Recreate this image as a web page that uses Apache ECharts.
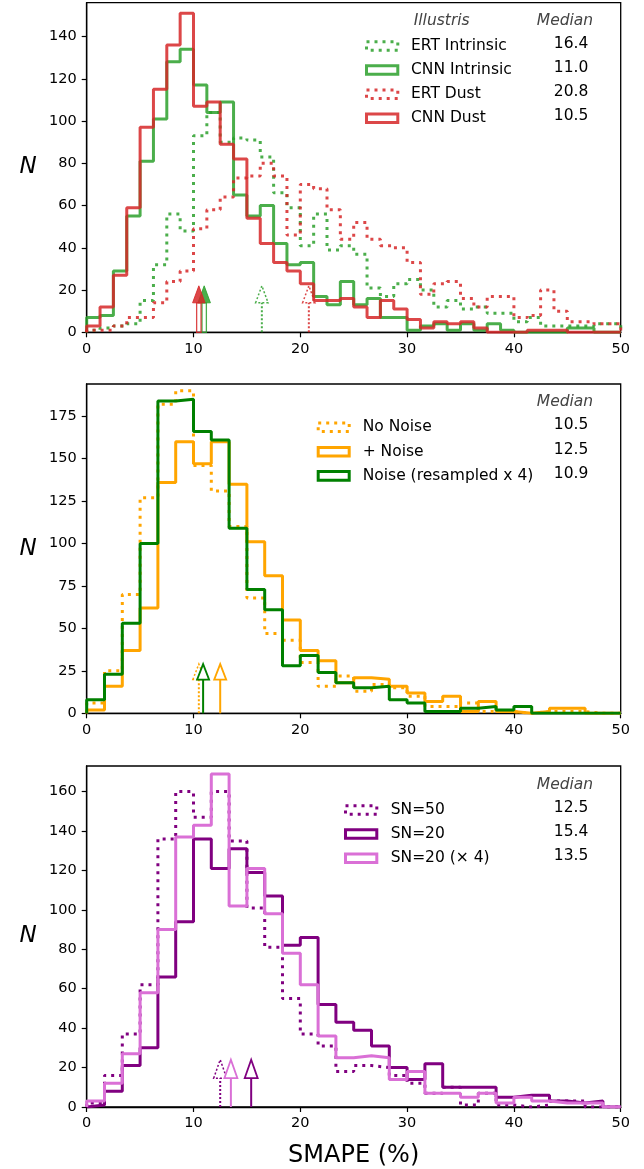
<!DOCTYPE html>
<html>
<head>
<meta charset="utf-8">
<script src="https://cdn.jsdelivr.net/npm/echarts@6/dist/echarts.min.js"></script>
<style>
  html, body { margin: 0; padding: 0; background: #fff; }
  #chart { width: 644px; height: 1169px; }
</style>
</head>
<body>
<div id="chart"></div>
<script>
// ---- Panel 1: Illustris, 40 bins of 1.25 % SMAPE ----
const binWidthTop = 1.25;
const ertIntrinsic = [1,2,3,4,15,32,56,48,93,104,90,92,91,83,66,59,41,56,39,41,37,21,17,23,25,20,12,15,11,12,9,9,5,7,3,3,3,3,4,4];
const cnnIntrinsic = [7,8,29,55,81,101,128,134,117,104,109,65,55,60,42,32,33,17,13,24,13,16,7,7,1,3,4,1,4,1,4,1,0,0,0,0,2,2,0,0];
const ertDust      = [1,1,3,7,7,14,24,29,49,58,64,73,74,80,74,46,70,68,58,44,52,44,41,40,33,18,23,24,16,12,17,17,7,8,20,10,5,5,4,4];
const cnnDust      = [3,12,27,59,97,115,136,151,107,109,89,82,54,42,33,29,23,15,15,16,12,7,15,11,6,2,5,4,5,2,0,0,0,1,1,1,0,0,0,0];
const namesTop   = ['ERT Intrinsic', 'CNN Intrinsic', 'ERT Dust', 'CNN Dust'];
const mediansTop = [16.4, 11.0, 20.8, 10.5];

// ---- Panel 2: noise tests, 30 bins of 50/30 ----
const binWidthMid = 50 / 30;
const noNoise   = [6,25,70,127,182,190,146,131,110,68,47,43,30,16,22,13,17,15,10,4,4,6,1,1,0,1,1,1,0,0];
const plusNoise = [2,16,37,62,136,160,147,160,135,101,81,55,37,31,18,21,20,16,12,7,10,1,7,1,0,1,3,3,0,0];
const resampled = [8,23,53,100,184,185,166,161,109,73,61,28,34,24,18,15,16,8,6,1,1,3,4,2,4,0,0,0,0,0];
const namesMid   = ['No Noise', '+ Noise', 'Noise (resampled x 4)'];
const mediansMid = [10.5, 12.5, 10.9];

// ---- Panel 3: signal-to-noise, 30 bins of 50/30 ----
const binWidthBot = 50 / 30;
const sn50   = [2,16,37,62,136,160,147,160,135,101,81,55,37,31,18,21,20,16,12,7,10,1,7,1,0,1,3,3,0,0];
const sn20   = [1,8,21,30,66,94,136,121,131,119,107,82,86,52,43,39,31,20,14,22,10,10,10,5,6,6,3,2,3,0];
const sn20x4 = [3,12,27,58,90,137,143,169,102,121,98,78,62,36,25,26,25,14,18,7,7,5,7,2,5,3,2,2,2,0];
const namesBot   = ['SN=50', 'SN=20', 'SN=20 (\u00d7 4)'];
const mediansBot = [12.5, 15.4, 13.5];

// ---- Axis ticks ----
const xTicks    = [0, 10, 20, 30, 40, 50];
const yTicksTop = [0, 20, 40, 60, 80, 100, 120, 140];
const yTicksMid = [0, 25, 50, 75, 100, 125, 150, 175];
const yTicksBot = [0, 20, 40, 60, 80, 100, 120, 140, 160];

const FONT = 'DejaVu Sans';
const DOT = [3, 5];

// outline of a step histogram: up from 0 at the first edge, across every bin, down at the last edge
function stepPoints(counts, w) {
  const pts = [[0, 0]];
  counts.forEach((c, i) => pts.push([i * w, c]));
  const n = counts.length;
  pts.push([n * w, counts[n - 1]]);
  pts.push([n * w, 0]);
  return pts;
}

function histSeries(name, counts, w, idx, color, dotted, opacity) {
  return {
    type: 'line', name, xAxisIndex: idx, yAxisIndex: idx,
    data: stepPoints(counts, w), step: 'end',
    symbol: 'none', silent: true, animation: false,
    lineStyle: { color, width: 3, type: dotted ? DOT : 'solid', opacity: opacity, cap: 'butt' },
    itemStyle: { color }
  };
}

// median markers: a vertical arrow from zero up to `top`
function arrowSeries(idx, medians, styles, top, head) {
  return {
    type: 'custom', xAxisIndex: idx, yAxisIndex: idx, silent: true, animation: false, z: 6,
    data: medians.map(m => [m]),
    renderItem(params, api) {
      const s = styles[params.dataIndex];
      const x = api.value(0);
      const p0 = api.coord([x, 0]);
      const p1 = api.coord([x, top]);
      const cx = p0[0];
      const hw = head[0] / 2;
      const neck = p1[1] + head[1];
      const kids = [];
      if (s.kind === 'filled') {
        kids.push({ type: 'rect', shape: { x: cx - 2.2, y: neck, width: 4.4, height: p0[1] - neck },
          style: { fill: 'none', stroke: s.color, lineWidth: 1.3, opacity: s.opacity || 1 } });
        kids.push({ type: 'polygon', shape: { points: [[cx - hw, neck], [cx, p1[1]], [cx + hw, neck]] },
          style: { fill: s.color, stroke: s.color, lineWidth: 1, opacity: s.opacity || 1 } });
      } else {
        const dash = s.kind === 'dotted' ? [2, 2] : null;
        kids.push({ type: 'line', shape: { x1: cx, y1: p0[1], x2: cx, y2: neck },
          style: { stroke: s.color, lineWidth: 2, lineDash: dash, opacity: s.opacity || 1 } });
        kids.push({ type: 'polygon', shape: { points: [[cx - hw, neck], [cx, p1[1]], [cx + hw, neck]] },
          style: { fill: dash ? 'none' : '#fff', stroke: s.color, lineWidth: dash ? 1.5 : 1.8, lineDash: dash, opacity: s.opacity || 1 } });
      }
      return { type: 'group', children: kids };
    }
  };
}

const grids = [
  { left: 86.7, top: 2.7, width: 534, height: 329.6 },
  { left: 86.7, top: 384, width: 534, height: 329.3 },
  { left: 86.7, top: 766, width: 534, height: 346.3 }
];
const yMax = [156, 194, 173];
const yTicks = [yTicksTop, yTicksMid, yTicksBot];

const axisLine = { show: true, lineStyle: { color: '#000', width: 1.3 } };
const tickStyle = { show: true, inside: false, length: 5, lineStyle: { color: '#000', width: 1.2 } };
const labelStyle = { color: '#000', fontFamily: FONT, fontSize: 14.5 };

const xAxes = grids.map((g, i) => ({
  type: 'value', gridIndex: i, min: 0, max: 50, interval: 10,
  axisLine, axisTick: Object.assign({ customValues: xTicks }, tickStyle), splitLine: { show: false },
  axisLabel: Object.assign({ margin: 9, customValues: xTicks }, labelStyle),
  name: i === 2 ? 'SMAPE (%)' : '', nameLocation: 'middle', nameGap: 37,
  nameTextStyle: { color: '#000', fontFamily: FONT, fontSize: 24 }
}));
const yAxes = grids.map((g, i) => ({
  type: 'value', gridIndex: i, min: 0, max: yMax[i],
  axisLine, splitLine: { show: false },
  axisTick: Object.assign({ customValues: yTicks[i] }, tickStyle),
  axisLabel: Object.assign({ margin: 10, customValues: yTicks[i] }, labelStyle),
  name: 'N', nameLocation: 'middle', nameRotate: 0, nameGap: 50,
  nameTextStyle: { color: '#000', fontFamily: FONT, fontSize: 23, fontStyle: 'italic' }
}));

const green = '#2ca02c', red = '#d62728';
const orange = '#ffa500', dkgreen = '#008000';
const purple = '#800080', orchid = '#da70d6';

const series = [
  histSeries(namesTop[0], ertIntrinsic, binWidthTop, 0, green, true, 0.85),
  histSeries(namesTop[1], cnnIntrinsic, binWidthTop, 0, green, false, 0.85),
  histSeries(namesTop[2], ertDust, binWidthTop, 0, red, true, 0.85),
  histSeries(namesTop[3], cnnDust, binWidthTop, 0, red, false, 0.85),
  arrowSeries(0, mediansTop, [
    { kind: 'dotted', color: green, opacity: 0.85 },
    { kind: 'filled', color: green, opacity: 0.85 },
    { kind: 'dotted', color: red, opacity: 0.85 },
    { kind: 'filled', color: red, opacity: 0.85 }
  ], 22, [12.5, 17]),

  histSeries(namesMid[0], noNoise, binWidthMid, 1, orange, true, 1),
  histSeries(namesMid[1], plusNoise, binWidthMid, 1, orange, false, 1),
  histSeries(namesMid[2], resampled, binWidthMid, 1, dkgreen, false, 1),
  arrowSeries(1, mediansMid, [
    { kind: 'dotted', color: orange },
    { kind: 'open', color: orange },
    { kind: 'open', color: dkgreen }
  ], 29, [12, 15.5]),

  histSeries(namesBot[0], sn50, binWidthBot, 2, purple, true, 1),
  histSeries(namesBot[1], sn20, binWidthBot, 2, purple, false, 1),
  histSeries(namesBot[2], sn20x4, binWidthBot, 2, orchid, false, 1),
  arrowSeries(2, mediansBot, [
    { kind: 'dotted', color: purple },
    { kind: 'open', color: purple },
    { kind: 'open', color: orchid }
  ], 24, [13, 18.5])
];

// legend blocks: outline swatch, series name and its median
function legendBlock(cfg) {
  const els = [];
  cfg.names.forEach((name, i) => {
    const y = cfg.rows[i];
    els.push({ type: 'rect', shape: { x: cfg.swatchX + 1.5, y: y - 4.3, width: cfg.swatchW - 3, height: 8.6 },
      style: { fill: 'none', stroke: cfg.colors[i], lineWidth: 3, lineDash: cfg.dotted[i] ? DOT : null, opacity: cfg.opacity },
      silent: true });
    els.push({ type: 'text', x: cfg.textX, y: y, silent: true,
      style: { text: name, fill: '#000', font: '15.5px "DejaVu Sans"', textVerticalAlign: 'middle', textAlign: 'left' } });
    els.push({ type: 'text', x: 588.3, y: y - 2, silent: true,
      style: { text: cfg.medians[i].toFixed(1), fill: '#000', font: '15.5px "DejaVu Sans"', textVerticalAlign: 'middle', textAlign: 'right' } });
  });
  els.push({ type: 'text', x: 565, y: cfg.headY, silent: true,
    style: { text: 'Median', fill: '#444', font: 'italic 15.5px "DejaVu Sans"', textVerticalAlign: 'middle', textAlign: 'center' } });
  if (cfg.title) {
    els.push({ type: 'text', x: cfg.titleX, y: cfg.headY, silent: true,
      style: { text: cfg.title, fill: '#444', font: 'italic 15.5px "DejaVu Sans"', textVerticalAlign: 'middle', textAlign: 'center' } });
  }
  return els;
}

const graphics = [].concat(
  legendBlock({ names: namesTop, medians: mediansTop, colors: [green, green, red, red], dotted: [true, false, true, false],
    opacity: 0.85, rows: [46, 70, 94.3, 118.3], swatchX: 365, swatchW: 34.3, textX: 411, headY: 20.7,
    title: 'Illustris', titleX: 441.7 }),
  legendBlock({ names: namesMid, medians: mediansMid, colors: [orange, orange, dkgreen], dotted: [true, false, false],
    opacity: 1, rows: [427.3, 451.7, 475.9], swatchX: 316.7, swatchW: 34, textX: 362.7, headY: 401.7 }),
  legendBlock({ names: namesBot, medians: mediansBot, colors: [purple, purple, orchid], dotted: [true, false, false],
    opacity: 1, rows: [810, 834, 858.3], swatchX: 344, swatchW: 34.3, textX: 390.7, headY: 785 })
);

const chart = echarts.init(document.getElementById('chart'), null, { renderer: 'canvas' });
chart.setOption({
  backgroundColor: '#fff',
  animation: false,
  textStyle: { fontFamily: FONT },
  grid: grids.map(g => Object.assign({ show: true, borderColor: '#000', borderWidth: 1.3, backgroundColor: 'transparent' }, g)),
  xAxis: xAxes,
  yAxis: yAxes,
  series,
  graphic: graphics
});
</script>
</body>
</html>
